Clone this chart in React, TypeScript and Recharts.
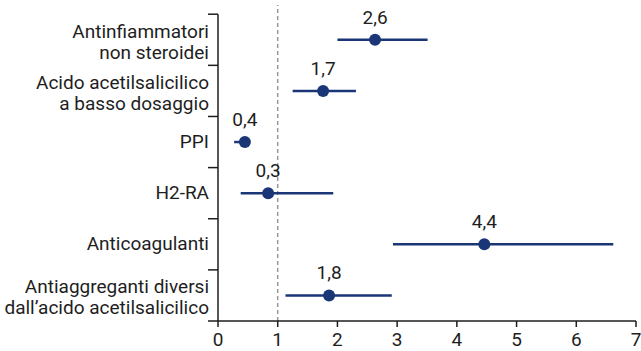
import { ScatterChart, Scatter, XAxis, YAxis, ReferenceLine, ErrorBar } from 'recharts';

const categories = [
  'Antinfiammatori\nnon steroidei',
  'Acido acetilsalicilico\na basso dosaggio',
  'PPI',
  'H2-RA',
  'Anticoagulanti',
  'Antiaggreganti diversi\ndall\u2019acido acetilsalicilico',
];
const estimates = [2.63, 1.76, 0.45, 0.84, 4.46, 1.86];
const lower = [2.0, 1.25, 0.27, 0.38, 2.93, 1.13];
const upper = [3.51, 2.31, 0.47, 1.93, 6.62, 2.91];
const valueLabels = ['2,6', '1,7', '0,4', '0,3', '4,4', '1,8'];
const xTicks = [0, 1, 2, 3, 4, 5, 6, 7];

const NAVY = '#1a3677';
const INK = '#1e1e1e';
const FONT = 'Roboto, sans-serif';

const data = categories.map((c, i) => ({
  name: c,
  x: estimates[i],
  y: categories.length - i - 0.5,
  err: [estimates[i] - lower[i], upper[i] - estimates[i]],
  label: valueLabels[i],
}));

const yTicks: number[] = [];
for (let i = 0; i <= categories.length * 2; i++) yTicks.push(i / 2);

function CategoryTick(props: any) {
  const { x, y, payload } = props;
  const v = payload.value as number;
  if (Number.isInteger(v)) {
    return <line x1={x - 10} x2={x} y1={y} y2={y} stroke={INK} strokeWidth={1.5} />;
  }
  const idx = Math.round(categories.length - 0.5 - v);
  const lines = categories[idx].split('\n');
  const first = lines.length === 1 ? 6 : -2;
  return (
    <text x={x - 9} y={y} textAnchor="end" fill={INK} fontSize={19} fontFamily={FONT}>
      {lines.map((l, k) => (
        <tspan key={k} x={x - 9} y={y + first + k * 21}>
          {l}
        </tspan>
      ))}
    </text>
  );
}

function PointShape(props: any) {
  const { cx, cy, payload } = props;
  return (
    <g>
      <circle cx={cx} cy={cy} r={6} fill={NAVY} />
      <text x={cx} y={cy - 16} textAnchor="middle" fill={INK} fontSize={19} fontFamily={FONT}>
        {payload.label}
      </text>
    </g>
  );
}

export default function App() {
  return (
    <div style={{ position: 'absolute', left: 0, top: 0, background: '#fff' }}>
      <ScatterChart width={641} height={351} margin={{ top: 5, right: 5, left: 0, bottom: 0 }}>
        <XAxis
          type="number"
          dataKey="x"
          domain={[0, 7]}
          ticks={xTicks}
          allowDataOverflow
          height={30}
          tickSize={6}
          tickMargin={6}
          stroke={INK}
          strokeWidth={1.5}
          tick={{ fill: INK, fontSize: 19, fontFamily: FONT }}
        />
        <YAxis
          type="number"
          dataKey="y"
          domain={[0, 6.18]}
          ticks={yTicks}
          interval={0}
          width={218}
          axisLine={false}
          tickLine={false}
          tickSize={0}
          tickMargin={0}
          tick={<CategoryTick />}
        />
        <ReferenceLine x={1} stroke="#999" strokeWidth={1.5} strokeDasharray="4 3" />
        <ReferenceLine
          segment={[{ x: 0, y: 0 }, { x: 0, y: categories.length }]}
          stroke={INK}
          strokeWidth={1.5}
        />
        <Scatter data={data} shape={<PointShape />} isAnimationActive={false}>
          <ErrorBar dataKey="err" direction="x" width={0} stroke={NAVY} strokeWidth={2.5} />
        </Scatter>
      </ScatterChart>
    </div>
  );
}
